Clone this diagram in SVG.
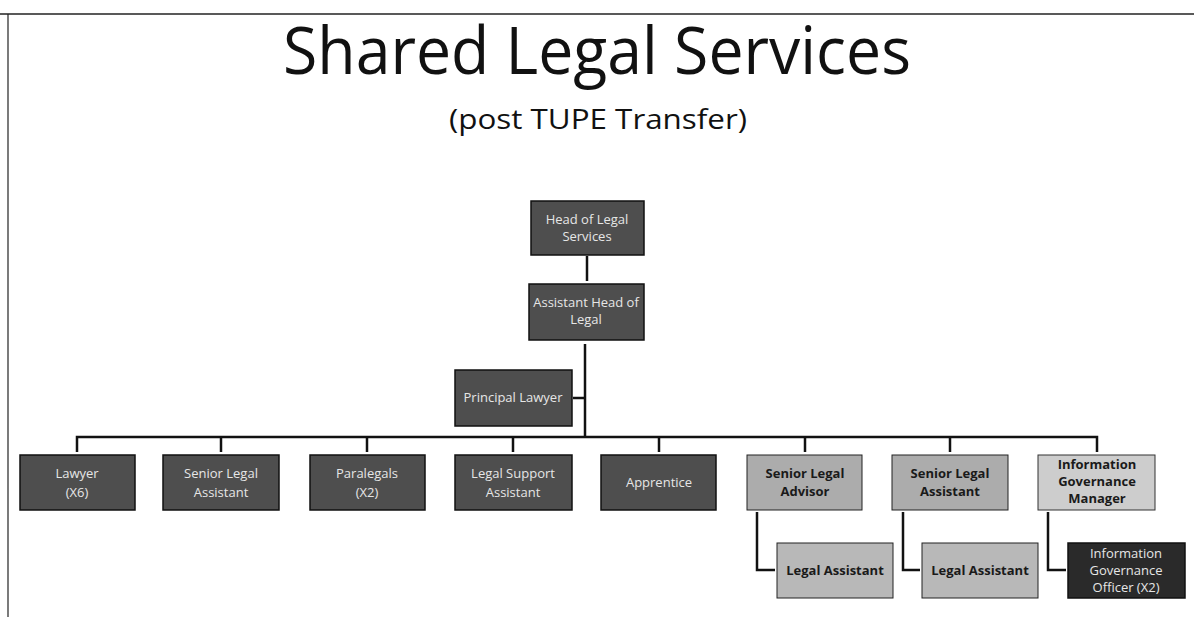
<svg xmlns="http://www.w3.org/2000/svg" width="1194" height="617" viewBox="0 0 1194 617">
<style>
.dk{fill:#4e4e4e;stroke:#111;stroke-width:1.5}
.dk2{fill:#2a2a2a;stroke:#111;stroke-width:1.5}
.lt{fill:#acacac;stroke:#222;stroke-width:1}
.lt2{fill:#b8b8b8;stroke:#222;stroke-width:1}
.lt3{fill:#cdcdcd;stroke:#333;stroke-width:1}
.tw{font-family:"Open Sans","Liberation Sans",sans-serif;font-size:13px;fill:#e6e6e6;text-anchor:middle}
.tb{font-family:"Open Sans","Liberation Sans",sans-serif;font-size:13px;font-weight:bold;fill:#1a1a1a;text-anchor:middle}
.ln{stroke:#111;stroke-width:2.5;fill:none}
</style>
<rect width="1194" height="617" fill="#fff"/>
<line x1="0" y1="14" x2="1194" y2="14" stroke="#222" stroke-width="1.5"/>
<line x1="8" y1="14" x2="8" y2="617" stroke="#222" stroke-width="1.2"/>
<text x="597" y="74" font-family="Open Sans, Liberation Sans, sans-serif" font-size="66" fill="#111" text-anchor="middle" textLength="628" lengthAdjust="spacingAndGlyphs">Shared Legal Services</text>
<text x="598" y="129" font-family="Open Sans, Liberation Sans, sans-serif" font-size="28" fill="#111" text-anchor="middle" textLength="298" lengthAdjust="spacingAndGlyphs">(post TUPE Transfer)</text>
<g id="connectors">
<line class="ln" x1="587" y1="256" x2="587" y2="281"/>
<line class="ln" x1="585" y1="344" x2="585" y2="437"/>
<line class="ln" x1="573" y1="398" x2="585" y2="398"/>
<polyline class="ln" points="77,452 77,437 1097,437 1097,452"/>
<line class="ln" x1="221" y1="437" x2="221" y2="452"/>
<line class="ln" x1="367" y1="437" x2="367" y2="452"/>
<line class="ln" x1="513" y1="437" x2="513" y2="452"/>
<line class="ln" x1="659" y1="437" x2="659" y2="452"/>
<line class="ln" x1="805" y1="437" x2="805" y2="452"/>
<line class="ln" x1="950" y1="437" x2="950" y2="452"/>
<polyline class="ln" points="757,512 757,570 775,570"/>
<polyline class="ln" points="903,512 903,570 920,570"/>
<polyline class="ln" points="1048,512 1048,570 1066,570"/>
</g>
<g id="head"><rect class="dk" x="531" y="201" width="113" height="54"/><text class="tw" x="587" y="224">Head of Legal</text><text class="tw" x="587" y="241">Services</text></g>
<g id="assistant-head"><rect class="dk" x="529" y="284" width="115" height="56"/><text class="tw" x="586" y="307">Assistant Head of</text><text class="tw" x="586" y="324">Legal</text></g>
<g id="principal"><rect class="dk" x="455" y="370" width="117" height="56"/><text class="tw" x="513" y="402">Principal Lawyer</text></g>
<g id="lawyer"><rect class="dk" x="20" y="455" width="115" height="55"/><text class="tw" x="77" y="478">Lawyer</text><text class="tw" x="77" y="497">(X6)</text></g>
<g id="senior-legal-assistant-1"><rect class="dk" x="163" y="455" width="116" height="55"/><text class="tw" x="221" y="478">Senior Legal</text><text class="tw" x="221" y="497">Assistant</text></g>
<g id="paralegals"><rect class="dk" x="310" y="455" width="115" height="55"/><text class="tw" x="367" y="478">Paralegals</text><text class="tw" x="367" y="497">(X2)</text></g>
<g id="legal-support"><rect class="dk" x="455" y="455" width="117" height="55"/><text class="tw" x="513" y="478">Legal Support</text><text class="tw" x="513" y="497">Assistant</text></g>
<g id="apprentice"><rect class="dk" x="601" y="455" width="115" height="55"/><text class="tw" x="659" y="487">Apprentice</text></g>
<g id="senior-legal-advisor"><rect class="lt" x="747" y="455" width="115" height="55"/><text class="tb" x="805" y="478">Senior Legal</text><text class="tb" x="805" y="496">Advisor</text></g>
<g id="senior-legal-assistant-2"><rect class="lt" x="892" y="455" width="116" height="55"/><text class="tb" x="950" y="478">Senior Legal</text><text class="tb" x="950" y="496">Assistant</text></g>
<g id="igm"><rect class="lt3" x="1038" y="455" width="117" height="55"/><text class="tb" x="1097" y="469">Information</text><text class="tb" x="1097" y="486">Governance</text><text class="tb" x="1097" y="503">Manager</text></g>
<g id="legal-assistant-1"><rect class="lt2" x="777" y="543" width="116" height="55"/><text class="tb" x="835" y="575">Legal Assistant</text></g>
<g id="legal-assistant-2"><rect class="lt2" x="922" y="543" width="116" height="55"/><text class="tb" x="980" y="575">Legal Assistant</text></g>
<g id="igo"><rect class="dk2" x="1068" y="543" width="117" height="55"/><text class="tw" x="1126" y="558">Information</text><text class="tw" x="1126" y="575">Governance</text><text class="tw" x="1126" y="592">Officer (X2)</text></g>
</svg>
